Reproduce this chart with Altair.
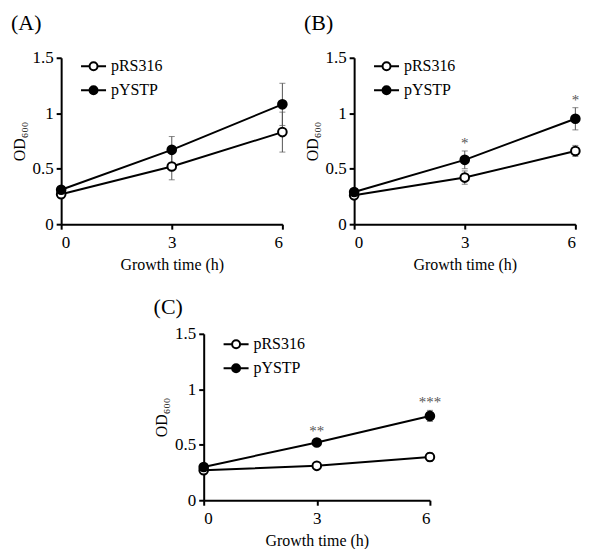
import altair as alt
import pandas as pd

times = [0, 3, 6]
series = ["pRS316", "pYSTP"]

a_prs = [0.27, 0.52, 0.83]
a_prs_err = [0.02, 0.12, 0.18]
a_ystp = [0.31, 0.67, 1.08]
a_ystp_err = [0.02, 0.12, 0.19]

b_prs = [0.26, 0.42, 0.66]
b_prs_err = [0.02, 0.06, 0.05]
b_ystp = [0.29, 0.58, 0.95]
b_ystp_err = [0.02, 0.08, 0.10]

c_prs = [0.27, 0.31, 0.39]
c_prs_err = [0.02, 0.02, 0.04]
c_ystp = [0.30, 0.52, 0.76]
c_ystp_err = [0.02, 0.03, 0.05]

a_stars = ["", "", ""]
b_stars = ["", "*", "*"]
c_stars = ["", "**", "***"]

y_ticks = [0, 0.5, 1, 1.5]
x_ticks = [0, 3, 6]

FONT = "Liberation Serif"
SYMBOL = ("M-1.32,0H-0.42M0.42,0H1.32"
          "M-0.42,0A0.42,0.42 0 1,0 0.42,0A0.42,0.42 0 1,0 -0.42,0Z")

AX = dict(grid=False, domainColor="black", domainWidth=2, tickColor="black", tickWidth=2,
          tickSize=5, labelFont=FONT, labelFontSize=17, labelColor="black",
          titleFont=FONT, titleFontSize=16, titleFontWeight="normal", titleColor="black")


def panel(label, prs, prs_err, ystp, ystp_err, stars, w, h, title_offset, leg_y):
    rows = []
    for s, vals, errs in ((series[0], prs, prs_err), (series[1], ystp, ystp_err)):
        for t, v, e in zip(times, vals, errs):
            rows.append({"time": t, "series": s, "od": v, "lo": v - e, "hi": v + e})
    df = pd.DataFrame(rows)
    sdf = pd.DataFrame({"time": times, "star": stars,
                        "y": [v + e for v, e in zip(ystp, ystp_err)]})
    sdf = sdf[sdf["star"] != ""]

    x = alt.X("time:Q", scale=alt.Scale(domain=[0, 6], nice=False),
              axis=alt.Axis(values=x_ticks, title="Growth time (h)",
                            labelPadding=5, titlePadding=6, **AX))
    y = alt.Y("od:Q", scale=alt.Scale(domain=[0, 1.5], nice=False),
              axis=alt.Axis(values=y_ticks, format="~g", title="OD₆₀₀",
                            labelPadding=3, titlePadding=5, **AX))

    base = alt.Chart(df)
    err = base.mark_rule(color="#555555", strokeWidth=1).encode(
        x=x, y=alt.Y("lo:Q"), y2="hi:Q", detail="series:N")
    cap_lo = base.mark_tick(orient="horizontal", size=6, thickness=1, color="#555555").encode(
        x=x, y=alt.Y("lo:Q"))
    cap_hi = base.mark_tick(orient="horizontal", size=6, thickness=1, color="#555555").encode(
        x=x, y=alt.Y("hi:Q"))
    line = base.mark_line(color="black", strokeWidth=2).encode(
        x=x, y=y, detail="series:N")
    pts = base.mark_circle(size=75, stroke="black", strokeWidth=2, opacity=1).encode(
        x=x, y=y,
        fill=alt.Fill("series:N",
                      scale=alt.Scale(domain=series, range=["white", "black"]),
                      legend=alt.Legend(orient="none", legendX=22, legendY=leg_y, title=None,
                                        symbolType=SYMBOL, symbolSize=361,
                                        symbolStrokeColor="black", symbolStrokeWidth=2,
                                        labelFont=FONT, labelFontSize=16, labelColor="black",
                                        labelOffset=7, rowPadding=5)))
    layers = [err, cap_lo, cap_hi, line, pts]
    if len(sdf):
        txt = alt.Chart(sdf).mark_text(font=FONT, fontSize=15, color="#555555",
                                       baseline="bottom", dy=0).encode(
            x=alt.X("time:Q"), y=alt.Y("y:Q"), text="star:N")
        layers.append(txt)
    return alt.layer(*layers).properties(
        width=w, height=h,
        title=alt.TitleParams(label, anchor="start", offset=title_offset, fontSize=22,
                              font=FONT, fontWeight="normal", color="black"))


pa = panel("(A)", a_prs, a_prs_err, a_ystp, a_ystp_err, a_stars, 222, 167, 14, -2)
pb = panel("(B)", b_prs, b_prs_err, b_ystp, b_ystp_err, b_stars, 222, 167, 14, -2)
pc = panel("(C)", c_prs, c_prs_err, c_ystp, c_ystp_err, c_stars, 227, 167, 6, 0)

top = alt.hconcat(pa, pb, spacing=12).resolve_scale(fill="independent").resolve_legend(fill="independent")
chart = alt.vconcat(top, pc, spacing=24, center=True).resolve_scale(
    fill="independent").resolve_legend(fill="independent").properties(
    padding={"left": 3, "top": 3, "right": 0, "bottom": 0},
    background="white"
).configure_view(stroke=None)

chart.save("out.html", embed_options={"renderer": "svg", "actions": False})
